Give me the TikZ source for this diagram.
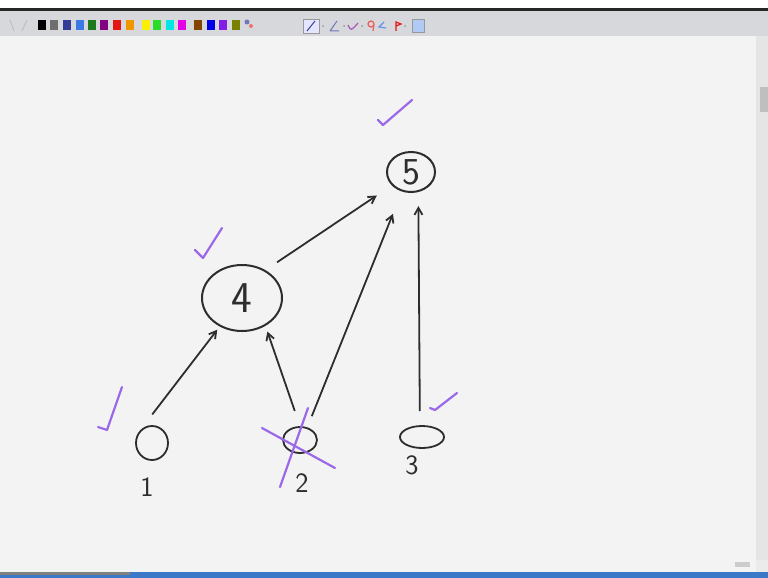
\documentclass[tikz,border=0pt]{standalone}
\usepackage{tikz}
\usetikzlibrary{shapes.geometric,positioning,arrows.meta}

\definecolor{ink}{RGB}{45,45,45}
\definecolor{tickpen}{RGB}{155,105,232}
\definecolor{canvas}{RGB}{243,243,243}
\definecolor{barbg}{RGB}{214,216,220}
\definecolor{taskbar}{RGB}{60,120,200}
\definecolor{pgray}{RGB}{110,110,110}
\definecolor{pnavy}{RGB}{50,60,150}
\definecolor{pblue}{RGB}{60,120,230}
\definecolor{pgreen}{RGB}{30,120,30}
\definecolor{ppurple}{RGB}{130,0,130}
\definecolor{pred}{RGB}{230,20,20}
\definecolor{porange}{RGB}{240,150,0}
\definecolor{pyellow}{RGB}{250,240,0}
\definecolor{plime}{RGB}{40,220,40}
\definecolor{pcyan}{RGB}{0,230,230}
\definecolor{pmagenta}{RGB}{230,0,230}
\definecolor{pbrown}{RGB}{130,70,0}
\definecolor{pdeep}{RGB}{0,0,230}
\definecolor{pviolet}{RGB}{130,30,230}
\definecolor{polive}{RGB}{120,130,0}

\begin{document}
\begin{tikzpicture}[
    x=1pt, y=-1pt,
    vertex/.style={
        draw=ink, line width=2pt, ellipse, inner sep=0pt,
        text=ink,
    },
    leaf/.style={vertex, line width=1.8pt},
    numlabel/.style={
        text=ink, inner sep=0pt,
        font=\sffamily\fontsize{28}{28}\selectfont,
    },
    edge/.style={
        draw=ink, line width=1.8pt,
        -{Straight Barb[length=7pt,width=8pt]},
    },
    tickmark/.style={
        draw=tickpen, line width=2.2pt,
        line cap=round, line join=round,
    },
    ]
    \useasboundingbox (0,0) rectangle (768,578);

    % window frame
    \fill[white] (0,0) rectangle (768,8);
    \fill[black!85] (0,8) rectangle (768,11);
    \fill[barbg] (0,11) rectangle (768,36);
    \fill[canvas] (0,36) rectangle (756,572);
    \fill[black!10] (756,36) rectangle (768,572);
    \fill[black!25] (760,87) rectangle (768,112);
    \fill[black!8] (756,560) rectangle (768,572);
    \fill[black!20] (735,562) rectangle (750,567);
    \fill[taskbar] (0,572) rectangle (768,578);
    \fill[black!50] (0,572) rectangle (130,575);

    % pen colours
    \draw[black!25, line width=1pt] (10,20) -- (14,31) (22,31) -- (27,20);
    \foreach \x/\c in {38/black, 50/pgray, 63/pnavy, 76/pblue,
                       88/pgreen, 100/ppurple, 113/pred, 126/porange,
                       142/pyellow, 153/plime, 166/pcyan, 178/pmagenta,
                       194/pbrown, 207/pdeep, 219/pviolet, 232/polive}
        \fill[\c] (\x,20) rectangle ++(8,10);
    \fill[pnavy!70] (247,22) circle (2.5);
    \fill[pred!60] (251,26) circle (2);

    % tool icons
    \draw[black!40, fill=blue!10] (303,19) rectangle (319,33);
    \draw[pnavy, line width=1pt] (307,31) -- (315,21);
    \fill[black!40] (323,26) circle (1);
    \draw[pnavy!70, line width=1pt] (330,31) -- (337,21) (330,31) -- (339,31);
    \fill[black!40] (344,26) circle (1);
    \draw[tickpen!80!red, line width=1.2pt] (348,25) .. controls (351,31) .. (358,23);
    \fill[black!40] (362,26) circle (1);
    \draw[pred!70, line width=1.2pt] (371,24) circle (3) (374,24) -- (373,31);
    \draw[pblue!80, line width=1.2pt] (384,22) -- (379,27) -- (386,28);
    \draw[pred, line width=1.2pt] (396,31) -- (396,22) -- (401,24) -- (396,26);
    \fill[black!40] (405,26) circle (1);
    \draw[black!40, fill=pblue!40] (412,19) rectangle (424,32);

    % tree
    \node[vertex, minimum width=48pt, minimum height=40pt,
          font=\sffamily\fontsize{38}{38}\selectfont] (n5) at (411,172) {5};
    \node[vertex, minimum width=80pt, minimum height=66pt,
          font=\sffamily\fontsize{44}{44}\selectfont] (n4) at (242,298) {4};
    \node[leaf, minimum width=32pt, minimum height=34pt] (l1) at (152,443) {};
    \node[leaf, minimum width=34pt, minimum height=26pt] (l2) at (300,440) {};
    \node[leaf, minimum width=44pt, minimum height=22pt] (l3) at (422,437) {};

    \node[numlabel, below=17pt of l1, xshift=-5pt] (t1) {1};
    \node[numlabel, below=20pt of l2, xshift=2pt] (t2) {2};
    \node[numlabel, below=7pt of l3, xshift=-10pt] (t3) {3};

    \draw[edge, shorten <=20pt, shorten >=4pt] (l1.north west) -- (n4.232);
    \draw[edge, shorten <=16pt, shorten >=6pt] (l2.north) -- (n4.-50);
    \draw[edge, shorten <=12pt, shorten >=24pt] (l2.60) -- (n5.245);
    \draw[edge, shorten <=14pt, shorten >=14pt] (l3.100) -- (n5.-70);
    \draw[edge, shorten <=14pt, shorten >=18pt] (n4.50) -- (n5.215);

    % marks
    \draw[tickmark] (378,120) -- (383,125) -- (412,100);
    \draw[tickmark] (195,250) -- (203,258) -- (222,228);
    \draw[tickmark] (98,427) -- (107,430) -- (122,387);
    \draw[tickmark] (430,408) -- (435,410) -- (457,393);
    \draw[tickmark] (280,487) -- (308,408);
    \draw[tickmark] (262,428) -- (335,468);
\end{tikzpicture}
\end{document}
